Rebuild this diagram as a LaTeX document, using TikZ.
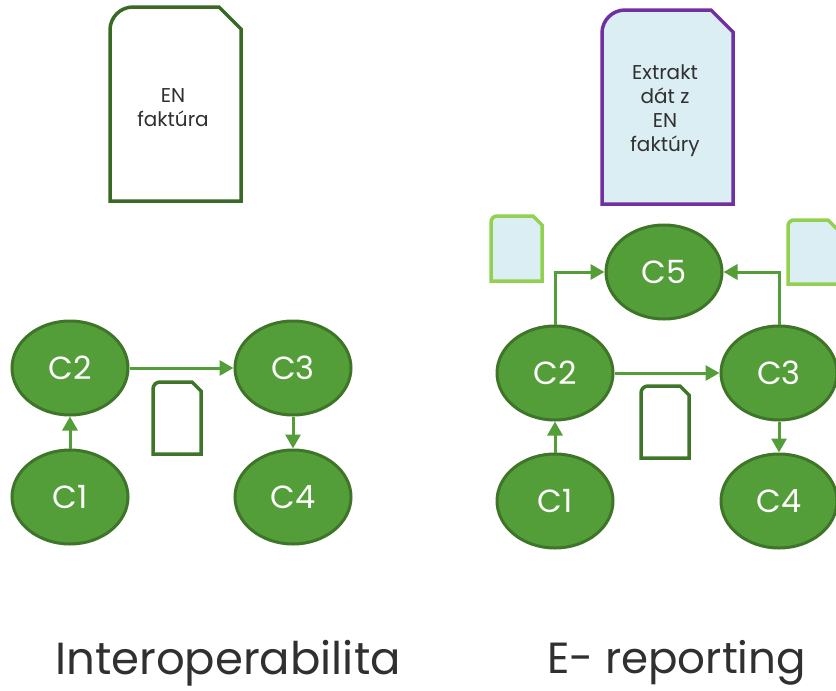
\documentclass[tikz,border=0pt]{standalone}
\usepackage{fontspec}
\setmainfont{Poppins}
\usetikzlibrary{arrows.meta,shapes.geometric}
\definecolor{cfill}{HTML}{549E39}
\definecolor{cedge}{HTML}{3E7529}
\definecolor{cpale}{HTML}{DAEEF3}
\definecolor{clime}{HTML}{92D050}
\definecolor{cpurple}{HTML}{7030A0}
\definecolor{ctext}{HTML}{303030}
\tikzset{
    corner/.style={draw=cedge,fill=cfill,ellipse,line width=3pt,minimum width=116pt,minimum height=94pt,inner sep=0pt,text=white,font=\fontsize{32}{32}\selectfont},
    flow/.style={cfill,line width=3pt,-{Triangle[length=14pt,width=15pt]}},
    bigdoc/.style={line width=3.5pt,fill=white},
    smalldoc/.style={line width=3.5pt,fill=white,draw=cedge},
    palesheet/.style={line width=3.5pt,fill=cpale,draw=clime},
    doctext/.style={text=ctext,align=center,inner sep=0pt,font=\fontsize{20}{24}\selectfont},
    caption/.style={text=ctext,inner sep=0pt,font=\fontsize{45}{45}\selectfont}
}
\begin{document}
\begin{tikzpicture}[x=1pt,y=-1pt]
        \clip (0,0) rectangle (836,691);
        %% Left group
        \draw[bigdoc,draw=cedge!90!black] (110,201) -- (110,30) arc (180:270:23) -- (219,7) -- (241,29) -- (241,201) -- cycle;
        \node[doctext] (docEN) at (173,108) {EN\\faktúra};
        \node[corner] (A2) at (70,368) {C2};
        \node[corner] (A3) at (293,368) {C3};
        \node[corner] (A1) at (70,497) {C1};
        \node[corner] (A4) at (293,497) {C4};
        \draw[smalldoc] (153,454) -- (153,389) arc (180:270:7) -- (192,382) -- (201,391) -- (201,454) -- cycle;
        \draw[flow] (A1) -- (A2);
        \draw[flow] (A2) -- (A3);
        \draw[flow] (A3) -- (A4);
        %% Right group
        \draw[bigdoc,draw=cpurple,fill=cpale] (602,204) -- (602,33) arc (180:270:23) -- (711,10) -- (733,32) -- (733,204) -- cycle;
        \node[doctext] (docData) at (665,111) {Extrakt\\dát z\\EN\\faktúry};
        \node[corner] (B5) at (664,272) {C5};
        \node[corner] (B2) at (555,373) {C2};
        \node[corner] (B3) at (779,373) {C3};
        \node[corner] (B1) at (555,501) {C1};
        \node[corner] (B4) at (779,501) {C4};
        \draw[palesheet] (491,281) -- (491,222) arc (180:270:6) -- (533,216) -- (542,225) -- (542,281) -- cycle;
        \draw[palesheet] (788,284) -- (788,226) arc (180:270:6) -- (828,220) -- (838,230) -- (838,284) -- cycle;
        \draw[smalldoc] (641,458) -- (641,393) arc (180:270:7) -- (680,386) -- (689,395) -- (689,458) -- cycle;
        \draw[flow] (B1) -- (B2);
        \draw[flow] (B2) -- (B3);
        \draw[flow] (B3) -- (B4);
        \draw[flow] (B2.north) |- (B5.west);
        \draw[flow] (B3.north) |- (B5.east);
        %% Captions
        \node[caption] (capLeft) at (228,663) {Interoperabilita};
        \node[caption,font=\fontsize{43.6}{44}\selectfont] (capRight) at (676.5,663) {E- reporting};
\end{tikzpicture}
\end{document}
